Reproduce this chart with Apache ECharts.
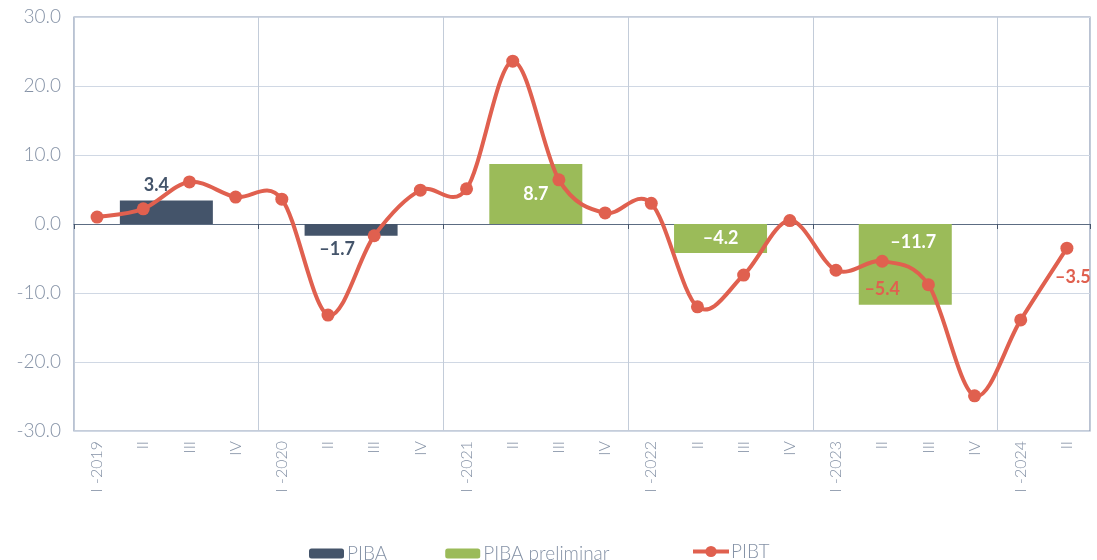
<!DOCTYPE html>
<html>
<head>
<meta charset="utf-8">
<script src="https://cdn.jsdelivr.net/npm/echarts@6/dist/echarts.min.js"></script>
<style>
  html, body { margin: 0; padding: 0; background: #fff; }
  #chart { width: 1097px; height: 560px; }
</style>
</head>
<body>
<div id="chart"></div>
<script>
  /* trimestres */
  var quarters = ['I -2019', 'II', 'III', 'IV', 'I -2020', 'II', 'III', 'IV', 'I -2021', 'II', 'III', 'IV',
                  'I -2022', 'II', 'III', 'IV', 'I -2023', 'II', 'III', 'IV', 'I -2024', 'II'];
  var pibt = [1.0, 2.2, 6.1, 3.9, 3.6, -13.2, -1.7, 4.9, 5.1, 23.6, 6.4, 1.6,
              3.0, -12.0, -7.4, 0.5, -6.7, -5.4, -8.8, -24.9, -13.9, -3.5];
  /* PIBA anual, centrado en el año (posición en trimestres) */
  var pibaPos = [1.5, 5.5];
  var piba = [3.4, -1.7];
  var pibaPrelPos = [9.5, 13.5, 17.5];
  var pibaPrel = [8.7, -4.2, -11.7];
  var yTicks = [-30, -20, -10, 0, 10, 20, 30];

  var dark = '#44546a', green = '#9bbb59', red = '#e0604f';
  var grey = '#8592a6';
  var font = 'Lato';
  function dash(v) { return String(v).replace('-', '–'); }

  var chart = echarts.init(document.getElementById('chart'));

  var pibaLabels = [
    { position: 'top', distance: 6, offset: [-10, 0], color: dark },
    { position: 'bottom', distance: 4, offset: [-14, 0], color: dark }
  ];
  var prelLabels = [
    { position: 'inside', offset: [0, 0], color: '#fff' },
    { position: 'inside', offset: [0, 0], color: '#fff' },
    { position: 'inside', offset: [8, -22], color: '#fff' }
  ];

  var pibaData = piba.map(function (v, i) {
    return { value: [pibaPos[i], v], label: pibaLabels[i] };
  });
  var prelData = pibaPrel.map(function (v, i) {
    return { value: [pibaPrelPos[i], v], label: prelLabels[i] };
  });
  var pibtData = pibt.map(function (v, i) {
    var d = { value: v };
    if (i === 17) d.label = { show: true, position: 'bottom', distance: 12, offset: [0, 0] };
    if (i === 21) d.label = { show: true, position: 'bottom', distance: 14, offset: [6, 0] };
    return d;
  });

  // curva suavizada tipo Excel (Catmull-Rom) sobre las coordenadas del eje
  function renderCurve(params, api) {
    if (params.dataIndex !== 0) return null;
    var pts = pibt.map(function (v, i) { return api.coord([i, v]); });
    var segs = [];
    for (var i = 0; i < pts.length - 1; i++) {
      var p0 = pts[Math.max(i - 1, 0)], p1 = pts[i], p2 = pts[i + 1], p3 = pts[Math.min(i + 2, pts.length - 1)];
      segs.push({
        type: 'bezierCurve',
        shape: {
          x1: p1[0], y1: p1[1], x2: p2[0], y2: p2[1],
          cpx1: p1[0] + (p2[0] - p0[0]) / 6, cpy1: p1[1] + (p2[1] - p0[1]) / 6,
          cpx2: p2[0] - (p3[0] - p1[0]) / 6, cpy2: p2[1] - (p3[1] - p1[1]) / 6
        },
        style: { fill: null, stroke: red, lineWidth: 4, lineCap: 'round' }
      });
    }
    return { type: 'group', children: segs };
  }

  chart.setOption({
    animation: false,
    textStyle: { fontFamily: font },
    grid: {
      left: 74, right: 7, top: 17, bottom: 129,
      show: true, borderColor: '#8c9bb5', borderWidth: 1.2
    },
    legend: [
      {
        data: ['PIBA', 'PIBA preliminar'],
        left: 304, top: 539,
        itemWidth: 35, itemHeight: 10, itemGap: 58,
        textStyle: { color: grey, fontSize: 19, fontWeight: 300, fontFamily: font, padding: [0, 0, 0, -2] }
      },
      {
        data: ['PIBT'],
        left: 686, top: 537,
        itemWidth: 36, itemHeight: 14,
        lineStyle: { color: red, width: 4, opacity: 1 },
        textStyle: { color: grey, fontSize: 19, fontWeight: 300, fontFamily: font, padding: [0, 0, 0, -3] }
      }
    ],
    xAxis: [
      {
        type: 'category',
        data: quarters,
        position: 'bottom',
        axisLine: { show: false, onZero: false },
        axisTick: { show: false },
        axisLabel: { rotate: 90, color: grey, fontSize: 16, fontWeight: 300, margin: 10, interval: 0 },
        splitLine: {
          show: true,
          interval: function (i) { return i % 4 === 0; },
          lineStyle: { color: '#c3ccd9', width: 1 }
        }
      },
      {
        type: 'category',
        data: quarters,
        position: 'top',
        axisLine: { show: true, onZero: true, lineStyle: { color: '#5c6c82', width: 1.2 } },
        axisTick: {
          show: true, inside: true, length: 5,
          interval: function (i) { return i % 4 === 0; },
          lineStyle: { color: '#44546a' }
        },
        axisLabel: { show: false },
        splitLine: { show: false }
      },
      {
        type: 'value',
        min: -0.5, max: 21.5,
        show: false,
        splitLine: { show: false }
      }
    ],
    yAxis: {
      type: 'value',
      min: yTicks[0], max: yTicks[yTicks.length - 1], interval: 10,
      axisLine: { show: false },
      axisTick: { show: false },
      axisLabel: {
        color: grey, fontSize: 19, fontWeight: 300, margin: 13,
        formatter: function (v) { return v.toFixed(1); }
      },
      splitLine: { lineStyle: { color: '#d0d8e4', width: 1 } }
    },
    series: [
      {
        name: 'PIBA',
        type: 'bar',
        xAxisIndex: 2,
        barWidth: 93,
        barGap: '-100%',
        itemStyle: { color: dark },
        label: {
          show: true, fontSize: 18, fontWeight: 'bold', fontFamily: font,
          formatter: function (p) { return dash(p.value[1]); }
        },
        data: pibaData,
        z: 1
      },
      {
        name: 'PIBA preliminar',
        type: 'bar',
        xAxisIndex: 2,
        barWidth: 93,
        barGap: '-100%',
        itemStyle: { color: green },
        label: {
          show: true, fontSize: 18, fontWeight: 'bold', fontFamily: font,
          formatter: function (p) { return dash(p.value[1]); }
        },
        data: prelData,
        z: 1
      },
      {
        name: 'curva',
        type: 'custom',
        xAxisIndex: 0,
        renderItem: renderCurve,
        data: pibt.map(function (v, i) { return [i, v]; }),
        silent: true,
        z: 2
      },
      {
        name: 'PIBT',
        type: 'line',
        xAxisIndex: 0,
        symbol: 'circle',
        symbolSize: 13,
        lineStyle: { color: red, width: 4, opacity: 0 },
        itemStyle: { color: red },
        label: {
          show: false, color: red, fontSize: 18, fontWeight: 'bold', fontFamily: font,
          formatter: function (p) { return dash(p.value); }
        },
        data: pibtData,
        z: 3
      }
    ]
  });
</script>
</body>
</html>
